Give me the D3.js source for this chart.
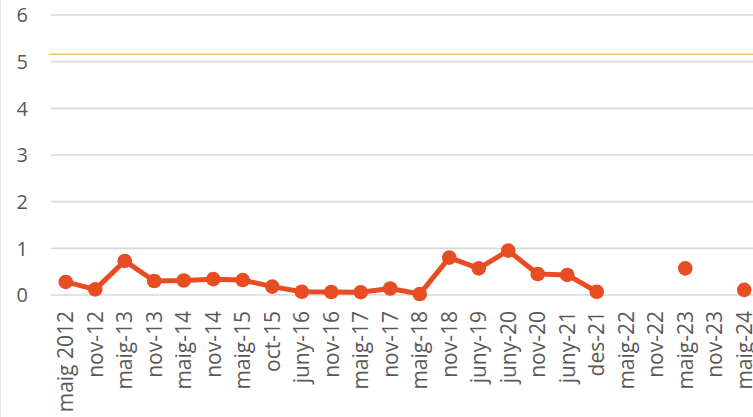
<!DOCTYPE html>
<html>
<head>
<meta charset="utf-8">
<script src="https://cdn.jsdelivr.net/npm/d3@7"></script>
<style>
  body { margin: 0; background: #fff; }
  text { font-family: "Open Sans", sans-serif; fill: #595959; }
</style>
</head>
<body>
<div id="chart"></div>
<script>
// data
var periods = ["maig 2012", "nov-12", "maig-13", "nov-13", "maig-14", "nov-14",
  "maig-15", "oct-15", "juny-16", "nov-16", "maig-17", "nov-17", "maig-18",
  "nov-18", "juny-19", "juny-20", "nov-20", "juny-21", "des-21", "maig-22",
  "nov-22", "maig-23", "nov-23", "maig-24"];
var values = [0.28, 0.12, 0.73, 0.30, 0.31, 0.34, 0.32, 0.18, 0.07, 0.065,
  0.06, 0.14, 0.02, 0.80, 0.57, 0.95, 0.45, 0.43, 0.07, null, null, 0.57, null, 0.11];
var limitValue = 5.16;
var yTicks = [0, 1, 2, 3, 4, 5, 6];

var width = 753, height = 417;
var margin = {top: 15, left: 51, bottom: 122};

var svg = d3.select("#chart").append("svg")
    .attr("width", width)
    .attr("height", height);

// set the ranges (plot runs a little past the right edge, as in the original)
var x = d3.scaleBand()
    .domain(periods)
    .range([margin.left, 759])
    .padding(0);
var y = d3.scaleLinear()
    .domain([0, 6])
    .range([height - margin.bottom, margin.top]);

var data = periods.map(function(p, i) { return {period: p, value: values[i]}; });

// faint frame on the left
svg.append("line")
    .attr("x1", 0.5).attr("x2", 0.5)
    .attr("y1", 0).attr("y2", height)
    .style("stroke", "#e6e6e6");

// gridlines
svg.append("g")
    .selectAll("line")
    .data(yTicks)
    .enter().append("line")
    .attr("x1", margin.left)
    .attr("x2", width)
    .attr("y1", function(d) { return y(d); })
    .attr("y2", function(d) { return y(d); })
    .style("stroke", "#d9d9d9")
    .style("stroke-width", 1.6);

// y labels
svg.append("g")
    .selectAll("text")
    .data(yTicks)
    .enter().append("text")
    .attr("x", 28)
    .attr("y", function(d) { return y(d); })
    .attr("dy", "0.36em")
    .style("text-anchor", "end")
    .style("font-size", "20px")
    .text(function(d) { return d; });

// x labels, rotated
svg.append("g")
    .selectAll("text")
    .data(periods)
    .enter().append("text")
    .attr("transform", function(d) {
      return "translate(" + (x(d) + x.bandwidth() / 2) + "," + (y(0) + 16) + ") rotate(-90)";
    })
    .attr("dy", "0.36em")
    .style("text-anchor", "end")
    .style("font-size", "21px")
    .text(function(d) { return d; });

// limit line
svg.append("line")
    .attr("x1", 49)
    .attr("x2", width)
    .attr("y1", y(limitValue))
    .attr("y2", y(limitValue))
    .style("stroke", "#f9c56e")
    .style("stroke-width", 1.6);

// series line
var line = d3.line()
    .defined(function(d) { return d.value !== null; })
    .x(function(d) { return x(d.period) + x.bandwidth() / 2; })
    .y(function(d) { return y(d.value); });

svg.append("path")
    .datum(data)
    .attr("d", line)
    .style("fill", "none")
    .style("stroke", "#e84c22")
    .style("stroke-width", 5)
    .style("stroke-linejoin", "round");

svg.selectAll(".dot")
    .data(data.filter(function(d) { return d.value !== null; }))
    .enter().append("circle")
    .attr("class", "dot")
    .attr("cx", function(d) { return x(d.period) + x.bandwidth() / 2; })
    .attr("cy", function(d) { return y(d.value); })
    .attr("r", 7.3)
    .style("fill", "#e84c22");
</script>
</body>
</html>
